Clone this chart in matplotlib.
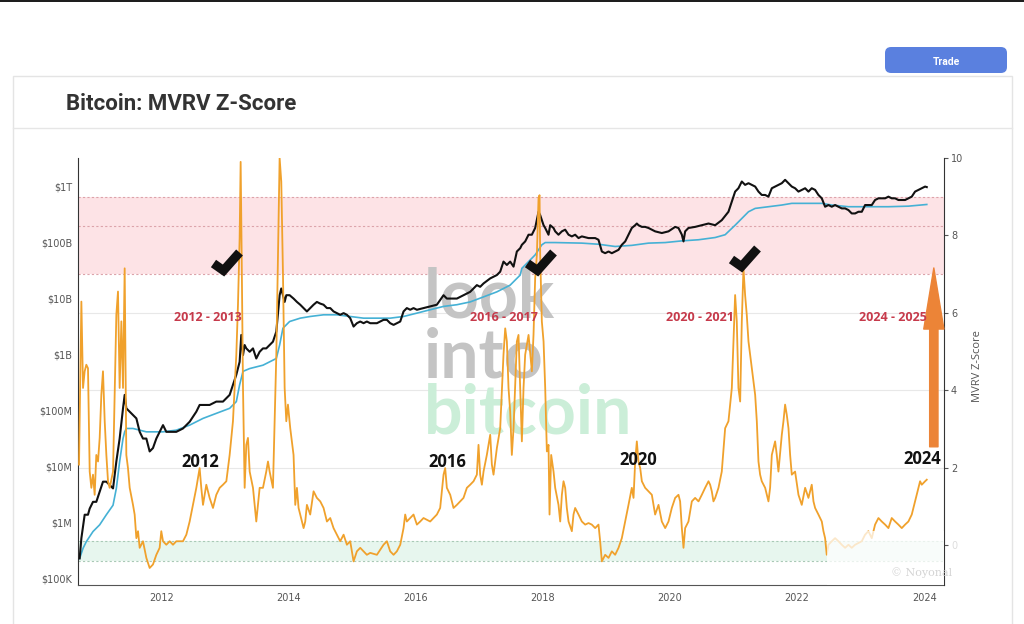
import numpy as np
import matplotlib
matplotlib.use("Agg")
import matplotlib.pyplot as plt
import matplotlib.transforms as mtransforms
from matplotlib.lines import Line2D
from matplotlib.path import Path
from matplotlib.patches import Rectangle, FancyBboxPatch, FancyArrowPatch
from matplotlib.ticker import NullLocator

z_year = [2010.706, 2010.743, 2010.769, 2010.795, 2010.821, 2010.847, 2010.874, 2010.900,
          2010.926, 2010.952, 2010.978, 2011.005, 2011.031, 2011.057, 2011.083, 2011.110,
          2011.136, 2011.162, 2011.188, 2011.241, 2011.293, 2011.319, 2011.345, 2011.372,
          2011.398, 2011.424, 2011.450, 2011.476, 2011.503, 2011.555, 2011.581, 2011.608,
          2011.634, 2011.660, 2011.712, 2011.765, 2011.817, 2011.869, 2011.922, 2011.974,
          2012.000, 2012.027, 2012.079, 2012.132, 2012.184, 2012.236, 2012.341, 2012.394,
          2012.446, 2012.498, 2012.551, 2012.603, 2012.629, 2012.656, 2012.708, 2012.760,
          2012.813, 2012.865, 2012.918, 2012.970, 2013.023, 2013.075, 2013.127, 2013.180,
          2013.206, 2013.232, 2013.248, 2013.264, 2013.285, 2013.311, 2013.337, 2013.363,
          2013.390, 2013.442, 2013.494, 2013.520, 2013.547, 2013.599, 2013.651, 2013.678,
          2013.704, 2013.756, 2013.782, 2013.809, 2013.835, 2013.861, 2013.887, 2013.913,
          2013.940, 2013.966, 2013.992,
          2014.028, 2014.080, 2014.107, 2014.133, 2014.159, 2014.185, 2014.238, 2014.264,
          2014.290, 2014.342, 2014.395, 2014.447, 2014.500, 2014.552, 2014.605, 2014.657,
          2014.709, 2014.762, 2014.814, 2014.867, 2014.919, 2014.971, 2015.024, 2015.076,
          2015.129, 2015.181, 2015.233, 2015.286, 2015.391, 2015.495, 2015.548, 2015.600,
          2015.653, 2015.705, 2015.758, 2015.810, 2015.836, 2015.862, 2015.915, 2015.967,
          2016.020, 2016.072, 2016.124, 2016.229, 2016.334, 2016.386, 2016.439, 2016.465,
          2016.491, 2016.544, 2016.596, 2016.649, 2016.701, 2016.753, 2016.806, 2016.858,
          2016.911, 2016.963, 2016.989, 2017.015, 2017.042, 2017.068, 2017.120, 2017.173,
          2017.199, 2017.225, 2017.278, 2017.330, 2017.382, 2017.409, 2017.435, 2017.461,
          2017.487, 2017.513, 2017.540,
          2017.592, 2017.618, 2017.645, 2017.671, 2017.697, 2017.723, 2017.776, 2017.828,
          2017.854, 2017.880, 2017.907, 2017.933, 2017.949, 2017.959, 2017.985, 2018.012,
          2018.038, 2018.064, 2018.090, 2018.106, 2018.132, 2018.169, 2018.195, 2018.247,
          2018.274, 2018.300, 2018.326, 2018.352, 2018.378, 2018.405, 2018.457, 2018.483,
          2018.509, 2018.562, 2018.614, 2018.667, 2018.719, 2018.771, 2018.824, 2018.876,
          2018.902, 2018.929, 2018.981, 2019.034, 2019.086, 2019.138, 2019.191, 2019.243,
          2019.296, 2019.348, 2019.400, 2019.427, 2019.453, 2019.479, 2019.505, 2019.532,
          2019.558, 2019.610, 2019.663, 2019.715, 2019.767, 2019.820, 2019.872, 2019.925,
          2019.977, 2020.029, 2020.082, 2020.134, 2020.160, 2020.187, 2020.213, 2020.239,
          2020.291, 2020.344, 2020.396, 2020.449, 2020.501, 2020.553, 2020.606, 2020.632,
          2020.658, 2020.684, 2020.711, 2020.763, 2020.815, 2020.868, 2020.920, 2020.973,
          2020.999,
          2021.025, 2021.051, 2021.077, 2021.104, 2021.130, 2021.156, 2021.182, 2021.208,
          2021.235, 2021.261, 2021.287, 2021.313, 2021.340, 2021.366, 2021.392, 2021.418,
          2021.444, 2021.497, 2021.549, 2021.575, 2021.602, 2021.628, 2021.654, 2021.680,
          2021.706, 2021.759, 2021.785, 2021.811, 2021.837, 2021.864, 2021.890, 2021.916,
          2021.968, 2022.021, 2022.073, 2022.126, 2022.178, 2022.230, 2022.257, 2022.283,
          2022.335, 2022.388, 2022.414, 2022.440, 2022.466, 2022.493, 2022.545, 2022.597,
          2022.650, 2022.702, 2022.755, 2022.807, 2022.859, 2022.912, 2023.017, 2023.069,
          2023.121, 2023.174, 2023.226, 2023.279, 2023.331, 2023.384, 2023.436, 2023.488,
          2023.541, 2023.593, 2023.646, 2023.698, 2023.750, 2023.803, 2023.855, 2023.908,
          2023.934, 2023.960, 2024.013, 2024.039]
z_score = [2.08, 6.29, 4.06, 4.49, 4.66, 4.57, 1.90, 1.48,
           1.82, 1.30, 2.33, 2.16, 2.77, 3.88, 4.49, 3.20,
           2.33, 1.65, 1.48, 1.90, 5.95, 6.55, 4.06, 5.78,
           4.06, 7.15, 2.33, 1.99, 1.48, 1.04, 0.79, 0.18,
           0.36, -0.07, 0.10, -0.33, -0.59, -0.50, -0.25, -0.07,
           0.36, 0.10, 0.01, 0.10, 0.01, 0.10, 0.10, 0.27,
           0.61, 1.04, 1.48, 1.99, 1.48, 1.04, 1.56, 1.22,
           0.96, 1.30, 1.48, 1.56, 1.65, 2.33, 3.20, 4.92,
           6.21, 7.93, 9.90, 7.50, 4.06, 1.48, 2.59, 2.77,
           1.90, 1.48, 0.61, 1.04, 1.48, 1.48, 1.90, 2.16,
           1.90, 1.48, 3.20, 4.92, 7.50, 10.0, 9.39, 7.07,
           4.06, 3.20, 3.63,
           3.02, 2.33, 1.04, 1.48, 0.96, 0.79, 0.44, 0.61,
           1.04, 0.79, 1.39, 1.22, 1.13, 0.96, 0.61, 0.70,
           0.44, 0.27, 0.10, 0.27, 0.01, 0.10, -0.42, -0.16,
           -0.07, -0.16, -0.25, -0.20, -0.25, 0.01, 0.10, -0.16,
           -0.25, -0.16, 0.01, 0.44, 0.79, 0.61, 0.70, 0.79,
           0.53, 0.61, 0.70, 0.61, 0.79, 0.96, 1.82, 1.99,
           1.48, 1.30, 0.96, 1.04, 1.13, 1.22, 1.48, 1.56,
           1.65, 1.82, 2.59, 1.82, 1.56, 1.90, 2.33, 2.85,
           2.08, 1.82, 2.51, 3.02, 4.92, 5.60, 5.26, 4.06,
           3.45, 2.33, 3.02,
           5.26, 5.43, 4.06, 2.68, 4.06, 4.92, 5.43, 4.49,
           5.43, 6.89, 7.50, 8.96, 9.04, 7.50, 5.78, 5.26,
           4.06, 2.42, 2.59, 0.79, 2.33, 1.90, 1.48, 1.04,
           0.61, 1.30, 1.65, 1.48, 0.96, 0.61, 0.36, 0.79,
           0.96, 0.79, 0.61, 0.53, 0.57, 0.53, 0.44, 0.53,
           0.10, -0.42, -0.25, -0.33, -0.16, -0.25, -0.07, 0.18,
           0.61, 1.04, 1.48, 1.22, 2.16, 2.68, 2.16, 1.99,
           1.65, 1.48, 1.39, 1.30, 0.79, 1.04, 0.61, 0.44,
           0.61, 0.96, 1.22, 1.30, 1.13, 0.44, -0.07, 0.44,
           0.61, 1.13, 1.22, 1.13, 1.30, 1.48, 1.65, 1.56,
           1.39, 1.13, 1.22, 1.48, 1.90, 3.02, 3.20, 4.06,
           5.26,
           6.46, 5.78, 4.06, 3.71, 5.78, 7.15, 6.46, 5.95,
           5.26, 4.92, 4.57, 4.23, 3.88, 3.20, 2.16, 1.82,
           1.65, 1.48, 1.13, 1.48, 2.33, 2.51, 2.68, 2.33,
           1.90, 2.85, 3.20, 3.63, 3.37, 3.02, 2.33, 1.82,
           1.90, 1.30, 1.04, 1.48, 1.22, 1.56, 1.13, 0.96,
           0.79, 0.61, 0.36, 0.18, -0.25, 0.01, 0.10, 0.18,
           0.10, 0.01, -0.07, 0.01, -0.07, 0.01, 0.10, 0.27,
           0.36, 0.18, 0.53, 0.70, 0.61, 0.53, 0.44, 0.70,
           0.61, 0.53, 0.44, 0.53, 0.61, 0.79, 1.13, 1.48,
           1.65, 1.56, 1.65, 1.69]

# Market cap (black) and realized cap (blue), log10 of USD
mcap_year = [2010.716, 2010.743, 2010.795, 2010.847, 2010.874, 2010.926, 2010.978, 2011.031,
             2011.083, 2011.136, 2011.188, 2011.241, 2011.293, 2011.345, 2011.398, 2011.424,
             2011.450, 2011.503, 2011.555, 2011.608, 2011.660, 2011.712, 2011.765, 2011.817,
             2011.869, 2011.922, 2011.974, 2012.027, 2012.079, 2012.132, 2012.236, 2012.341,
             2012.446, 2012.551, 2012.603, 2012.656, 2012.760, 2012.865, 2012.970, 2013.075,
             2013.127, 2013.180, 2013.232, 2013.258, 2013.285, 2013.311, 2013.337, 2013.390,
             2013.442, 2013.494, 2013.547, 2013.599, 2013.651, 2013.704, 2013.756, 2013.809,
             2013.861, 2013.887, 2013.913, 2013.940, 2013.966, 2014.018,
             2014.080, 2014.133, 2014.185, 2014.238, 2014.290, 2014.342, 2014.395, 2014.447,
             2014.500, 2014.552, 2014.605, 2014.657, 2014.709, 2014.762, 2014.814, 2014.867,
             2014.919, 2014.971, 2015.024, 2015.076, 2015.129, 2015.181, 2015.233, 2015.286,
             2015.391, 2015.495, 2015.548, 2015.600, 2015.653, 2015.705, 2015.758, 2015.810,
             2015.862, 2015.915, 2015.967, 2016.020, 2016.124, 2016.229, 2016.334, 2016.439,
             2016.491, 2016.544, 2016.649, 2016.753, 2016.858, 2016.963, 2017.015, 2017.068,
             2017.173, 2017.278, 2017.330, 2017.382, 2017.435, 2017.487, 2017.540, 2017.592,
             2017.645,
             2017.671, 2017.723, 2017.776, 2017.828, 2017.880, 2017.933, 2017.959, 2017.985,
             2018.012, 2018.038, 2018.090, 2018.116, 2018.169, 2018.195, 2018.247, 2018.300,
             2018.352, 2018.405, 2018.457, 2018.509, 2018.562, 2018.614, 2018.719, 2018.824,
             2018.876, 2018.929, 2018.981, 2019.034, 2019.086, 2019.138, 2019.191, 2019.243,
             2019.296, 2019.348, 2019.400, 2019.453, 2019.479, 2019.505, 2019.558, 2019.610,
             2019.663, 2019.767, 2019.872, 2019.977, 2020.082, 2020.134, 2020.187, 2020.213,
             2020.239, 2020.291, 2020.396, 2020.501, 2020.606, 2020.711, 2020.815, 2020.920,
             2020.973,
             2021.025, 2021.077, 2021.130, 2021.182, 2021.235, 2021.287, 2021.340, 2021.392,
             2021.444, 2021.497, 2021.549, 2021.602, 2021.654, 2021.706, 2021.759, 2021.811,
             2021.864, 2021.916, 2021.968, 2022.021, 2022.073, 2022.126, 2022.178, 2022.230,
             2022.283, 2022.335, 2022.388, 2022.440, 2022.493, 2022.545, 2022.597, 2022.650,
             2022.702, 2022.755, 2022.807, 2022.859, 2022.912, 2022.964, 2023.017, 2023.069,
             2023.121, 2023.174, 2023.226, 2023.279, 2023.331, 2023.384, 2023.436, 2023.488,
             2023.541, 2023.593, 2023.646, 2023.698, 2023.750, 2023.803, 2023.855, 2023.908,
             2023.960, 2024.013, 2024.039]
mcap_log = [5.35, 5.71, 6.13, 6.13, 6.24, 6.36, 6.36, 6.54,
            6.72, 6.72, 6.66, 6.60, 7.08, 7.49, 8.03, 8.27,
            8.03, 7.97, 7.91, 7.85, 7.61, 7.49, 7.49, 7.26,
            7.32, 7.49, 7.61, 7.73, 7.61, 7.61, 7.61, 7.67,
            7.79, 7.97, 8.09, 8.09, 8.09, 8.15, 8.15, 8.27,
            8.45, 8.63, 8.86, 9.34, 8.98, 9.16, 9.10, 9.04,
            9.10, 8.92, 9.04, 9.10, 9.10, 9.16, 9.22, 9.40,
            10.05, 10.17, 10.05, 9.93, 10.05, 10.05,
            9.99, 9.93, 9.88, 9.82, 9.76, 9.82, 9.88, 9.93,
            9.90, 9.88, 9.82, 9.82, 9.76, 9.73, 9.70, 9.73,
            9.70, 9.64, 9.49, 9.55, 9.58, 9.55, 9.58, 9.55,
            9.55, 9.61, 9.61, 9.55, 9.52, 9.55, 9.58, 9.76,
            9.82, 9.79, 9.82, 9.79, 9.82, 9.85, 9.88, 10.05,
            9.99, 9.99, 9.99, 10.05, 10.11, 10.23, 10.20, 10.26,
            10.35, 10.41, 10.47, 10.65, 10.59, 10.65, 10.56, 10.83,
            10.89,
            10.95, 11.01, 11.13, 11.13, 11.25, 11.54, 11.48, 11.39,
            11.30, 11.25, 11.13, 11.30, 11.25, 11.19, 11.13, 11.19,
            11.22, 11.13, 11.10, 11.13, 11.07, 11.10, 11.07, 11.07,
            11.04, 10.83, 10.80, 10.83, 10.80, 10.83, 10.86, 10.95,
            11.01, 11.13, 11.25, 11.30, 11.33, 11.30, 11.27, 11.27,
            11.25, 11.19, 11.16, 11.19, 11.27, 11.25, 11.13, 11.01,
            11.19, 11.25, 11.27, 11.30, 11.33, 11.30, 11.39, 11.54,
            11.72,
            11.90, 11.96, 12.08, 12.02, 12.05, 12.02, 11.99, 11.90,
            11.84, 11.84, 11.81, 11.96, 11.99, 12.02, 12.05, 12.11,
            12.05, 11.99, 11.96, 11.90, 11.93, 11.96, 11.90, 11.96,
            11.93, 11.84, 11.78, 11.63, 11.66, 11.63, 11.66, 11.63,
            11.60, 11.60, 11.57, 11.51, 11.51, 11.54, 11.54, 11.66,
            11.66, 11.66, 11.75, 11.78, 11.78, 11.78, 11.81, 11.78,
            11.78, 11.75, 11.75, 11.75, 11.78, 11.81, 11.90, 11.93,
            11.96, 11.99, 11.98]

rcap_year = [2010.664, 2010.716, 2010.769, 2010.821, 2010.926, 2011.031, 2011.136, 2011.241,
             2011.293, 2011.345, 2011.398, 2011.424, 2011.450, 2011.555, 2011.660, 2011.765,
             2011.869, 2012.027, 2012.236, 2012.446, 2012.656, 2012.865, 2013.075, 2013.180,
             2013.232, 2013.285, 2013.390, 2013.599, 2013.809, 2013.861, 2013.913, 2014.018,
             2014.185, 2014.342, 2014.552, 2014.762, 2014.971, 2015.181, 2015.391, 2015.600,
             2015.810, 2016.020, 2016.229, 2016.439, 2016.649, 2016.858, 2017.068, 2017.278,
             2017.487, 2017.645, 2017.671, 2017.776, 2017.880, 2017.985, 2018.038, 2018.195,
             2018.614, 2018.876, 2019.138, 2019.400, 2019.663, 2019.925, 2020.187, 2020.449,
             2020.711, 2020.868, 2021.025, 2021.130, 2021.235, 2021.340, 2021.549, 2021.759,
             2021.916, 2022.073, 2022.388, 2022.545, 2022.807, 2023.121, 2023.436, 2023.750,
             2024.039]
rcap_log = [5.32, 5.35, 5.53, 5.65, 5.83, 5.95, 6.13, 6.30,
            6.60, 7.08, 7.49, 7.61, 7.67, 7.67, 7.64, 7.61,
            7.61, 7.61, 7.64, 7.73, 7.85, 7.94, 8.03, 8.15,
            8.45, 8.69, 8.74, 8.80, 8.92, 9.16, 9.46, 9.58,
            9.64, 9.67, 9.70, 9.70, 9.67, 9.64, 9.64, 9.64,
            9.67, 9.73, 9.79, 9.85, 9.88, 9.93, 10.02, 10.11,
            10.23, 10.41, 10.53, 10.65, 10.77, 10.95, 10.99, 10.99,
            10.98, 10.96, 10.92, 10.94, 10.98, 10.99, 11.02, 11.04,
            11.08, 11.13, 11.30, 11.42, 11.54, 11.60, 11.63, 11.66,
            11.69, 11.69, 11.69, 11.66, 11.63, 11.63, 11.63, 11.64,
            11.67]

cap_ticks = [1e5, 1e6, 1e7, 1e8, 1e9, 1e10, 1e11, 1e12]
cap_labels = ['$100K', '$1M', '$10M', '$100M', '$1B', '$10B', '$100B', '$1T']
year_ticks = [2012, 2014, 2016, 2018, 2020, 2022, 2024]
z_ticks = [0, 2, 4, 6, 8, 10]

cycle_labels = ['2012 - 2013', '2016 - 2017', '2020 - 2021', '2024 - 2025']
cycle_x = [2012.74, 2017.39, 2020.47, 2023.51]
halving_labels = ['2012', '2016', '2020', '2024']
halving_x = [2012.61, 2016.50, 2019.50, 2023.97]
halving_z = [2.15, 2.15, 2.21, 2.23]
check_x = [2013.02, 2017.96, 2021.17]
check_z = [7.32, 7.32, 7.42]

W, H = 1024, 624
fig = plt.figure(figsize=(W / 100, H / 100), dpi=100)
fig.patch.set_facecolor('white')

# page furniture: top bar, card, button, title
fig.add_artist(Rectangle((0, 1 - 2 / H), 1, 2 / H, transform=fig.transFigure,
                         facecolor='#1e1e1e', edgecolor='none'))
fig.add_artist(Rectangle((13 / W, -0.01), 999 / W, 1 - 76 / H + 0.01, transform=fig.transFigure,
                         fill=False, edgecolor='#e4e4e4', lw=1))
fig.add_artist(Line2D([13 / W, 1012 / W], [1 - 128 / H] * 2, transform=fig.transFigure,
                      color='#e6e6e6', lw=1))
fig.add_artist(FancyBboxPatch((885 / W, 1 - 73 / H), 122 / W, 26 / H, transform=fig.transFigure,
                              boxstyle='round,pad=0,rounding_size=0.006', mutation_aspect=1.6,
                              facecolor='#5a80df', edgecolor='none'))
fig.text(946 / W, 1 - 62 / H, 'Trade', color='white', fontsize=7.5, fontweight='bold',
         family='Roboto', ha='center', va='center')
fig.text(66 / W, 1 - 104 / H, 'Bitcoin: MVRV Z-Score', color='#333333', fontsize=16,
         fontweight='bold', family='Roboto', va='center')

ax = fig.add_axes([78 / W, 1 - 585 / H, 866 / W, 427 / H])
ax2 = ax.twinx()
ax.set_zorder(1)
ax2.set_zorder(2)

# bands and grid in z-score units, drawn under everything
blend = mtransforms.blended_transform_factory(ax.transAxes, ax2.transData)
ax.add_patch(Rectangle((0, 7), 1, 2, transform=blend, facecolor='#fde3e6', edgecolor='none', zorder=0))
ax.add_patch(Rectangle((0, -0.42), 1, 0.52, transform=blend, facecolor='#e7f6ee', edgecolor='none', zorder=0))
for z in [2, 4, 6]:
    ax.add_line(Line2D([0, 1], [z, z], transform=blend, color='#e8e8e8', lw=0.8, zorder=0.2))
for z in [7, 8.25, 9]:
    ax.add_line(Line2D([0, 1], [z, z], transform=blend, color='#dca3aa', lw=0.8,
                       ls=(0, (2, 2)), zorder=0.3))
for z in [-0.42, 0.10]:
    ax.add_line(Line2D([0, 1], [z, z], transform=blend, color='#a9c9b6', lw=0.8,
                       ls=(0, (2, 2)), zorder=0.3))

# watermark
for word, ypx, col in [('look', 318, '#c4c4c4'), ('into', 377, '#c4c4c4'), ('bitcoin', 433, '#cbeed8')]:
    ax.text(424 / W, 1 - ypx / H, word, transform=fig.transFigure, family='Lato',
            fontweight='bold', fontsize=49, color=col, va='baseline', ha='left', zorder=0.5)

ax.plot(rcap_year, 10 ** np.array(rcap_log), color='#45b1d5', lw=1.2, zorder=2)
ax.plot(mcap_year, 10 ** np.array(mcap_log), color='#111111', lw=1.5, zorder=3)
ax2.plot(z_year, z_score, color='#f0a12c', lw=1.3, zorder=2)

ax.set_yscale('log')
ax.set_ylim(10 ** 4.875, 10 ** 12.5)
ax.set_xlim(2010.69, 2024.31)
ax2.set_ylim(-1.03, 10)

# heavy tick marks (outline of a thick check)
check_path = Path([(-10.42, 2.69), (-3.70, -2.02), (9.64, 12.99), (16.36, 7.01),
                   (-2.30, -13.98), (-15.58, -4.69), (-10.42, 2.69)], closed=True)
ax2.plot(check_x, check_z, ls='none', marker=check_path, markersize=23.6,
         color='#111111', markeredgewidth=0, zorder=5)

for x, lab in zip(cycle_x, cycle_labels):
    ax2.text(x, 5.87, lab, color='#c63a4b', fontsize=9, fontweight='bold', family='Open Sans',
             ha='center', va='center', zorder=5)
for x, z, lab in zip(halving_x, halving_z, halving_labels):
    ax2.text(x, z, lab, color='#111111', fontsize=12, fontweight='bold', family='Open Sans',
             ha='center', va='center', zorder=5)
ax2.add_patch(FancyArrowPatch((2024.15, 2.54), (2024.15, 7.16),
                              arrowstyle='simple,head_width=1.45,head_length=4.4,tail_width=0.6',
                              mutation_scale=10, color='#ec8437', shrinkA=0, shrinkB=0,
                              zorder=4, clip_on=False))

# smudged corner watermark
ax2.add_patch(Rectangle((2022.47, -1.03), 2.0, 1.4, facecolor='white', edgecolor='none',
                        alpha=0.75, zorder=3))
ax2.text(2023.95, -0.72, '\u00a9 Noyonal', color='#d4d4d4', fontsize=8, family='DejaVu Serif',
         ha='center', va='center', zorder=4)

# axes styling
ax.set_yticks(cap_ticks, cap_labels)
ax.yaxis.set_minor_locator(NullLocator())
ax.set_xticks(year_ticks, [str(y) for y in year_ticks])
ax.tick_params(axis='y', length=0, labelsize=7, labelcolor='#555555', pad=4)
ax.tick_params(axis='x', length=0, labelsize=7, labelcolor='#555555', pad=6)
ax2.set_yticks(z_ticks, [str(z) for z in z_ticks])
ax2.tick_params(axis='y', length=3, labelsize=7, labelcolor='#555555', color='#555555', pad=2)
ax2.get_yticklabels()[0].set_color('#dddddd')

for a in (ax, ax2):
    a.spines['top'].set_visible(False)
ax.spines['right'].set_visible(False)
ax2.spines['left'].set_visible(False)
ax2.spines['bottom'].set_visible(False)
ax.spines['left'].set_color('#333333')
ax.spines['bottom'].set_color('#555555')
ax2.spines['right'].set_color('#333333')

fig.text(978 / W, 1 - 366 / H, 'MVRV Z-Score', rotation=90, ha='center', va='center',
         fontsize=8, color='#555555', family='Open Sans')

fig.savefig('out.png', dpi=100)
